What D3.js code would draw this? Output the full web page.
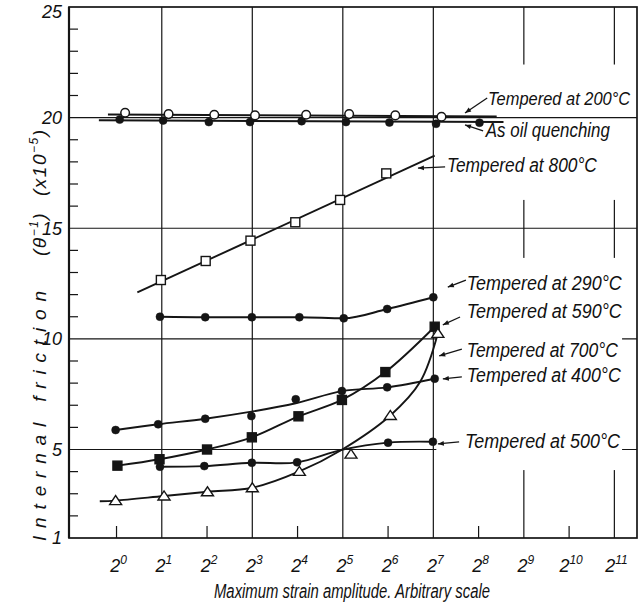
<!DOCTYPE html>
<html><head><meta charset="utf-8">
<script src="https://cdn.jsdelivr.net/npm/d3@7"></script>
<style>
body{margin:0;background:#fff;}
svg text{font-family:"Liberation Sans",Arial,sans-serif;font-style:italic;fill:#111;}
</style></head><body>
<svg id="c" width="644" height="612"></svg>
<script>
// ---------- data (x = exponent of 2, y = internal friction x1e-5) ----------
const xTickExponents = [0,1,2,3,4,5,6,7,8,9,10,11];
const yTickValues = [1,5,10,15,20,25];
const yMinorTicks = [2,3,4,6,7,8,9,11,12,13,14,16,17,18,19,21,22,23,24];
const gridExponents = [1,3,5,7,9,11];
const gridValues = [5,10,15];

// As oil quenching (filled circles)
const oilX = [0.07,1.03,2.04,2.95,4.09,5.07,6.03,7.06,8.02];
const oilY = [19.91,19.87,19.80,19.80,19.84,19.80,19.78,19.72,19.77];
const oilLineX = [-0.39,8.55];
const oilLineY = [19.88,19.80];
// Tempered at 200°C (open circles)
const t200X = [0.19,1.15,2.16,3.06,4.19,5.14,6.16,7.18];
const t200Y = [20.22,20.16,20.13,20.10,20.13,20.16,20.10,20.04];
const t200LineX = [-0.19,8.4];
const t200LineY = [20.14,20.05];
// Tempered at 800°C (open squares)
const t800X = [0.98,1.97,2.96,3.95,4.94,5.96];
const t800Y = [12.66,13.52,14.44,15.27,16.28,17.48];
const t800LineX = [0.46,7.03];
const t800LineY = [12.10,18.28];
// Tempered at 290°C (filled circles)
const t290X = [0.96,1.96,2.99,4.04,5.02,5.98,7.0];
const t290Y = [11.0,10.98,10.98,10.98,10.93,11.35,11.88];
// Tempered at 590°C (filled squares)
const t590X = [0.02,0.95,2.0,2.99,4.02,4.98,5.94,7.03];
const t590Y = [4.27,4.56,5.0,5.55,6.5,7.24,8.5,10.55];
// Tempered at 700°C (open triangles)
const t700X = [-0.02,1.05,2.01,3.0,4.04,5.18,6.05,7.1];
const t700Y = [2.69,2.9,3.09,3.27,4.01,4.79,6.54,10.25];
const t700LineX = [-0.37,-0.02,1.05,2.01,3.0,4.04,4.97,6.05,6.71,7.1];
const t700LineY = [2.66,2.69,2.9,3.09,3.27,4.01,4.98,6.54,8.06,10.25];
// Tempered at 400°C (filled circles)
const t400X = [-0.02,0.92,1.96,2.98,3.96,4.98,5.98,7.03];
const t400Y = [5.88,6.14,6.39,6.51,7.27,7.64,7.81,8.2];
const t400LineX = [-0.02,0.92,1.96,2.98,3.96,4.98,5.98,7.03];
const t400LineY = [5.88,6.14,6.39,6.71,7.09,7.64,7.81,8.2];
// Tempered at 500°C (filled circles)
const t500X = [0.96,1.94,2.99,3.99,6.0,6.99];
const t500Y = [4.22,4.25,4.4,4.42,5.31,5.35];
const t500LineX = [0.96,1.94,2.99,3.99,4.97,6.0,6.99];
const t500LineY = [4.22,4.25,4.4,4.42,4.98,5.31,5.35];

// labels
const labelTexts = ["Tempered at 200°C","As oil quenching","Tempered at 800°C","Tempered at 290°C",
  "Tempered at 590°C","Tempered at 700°C","Tempered at 400°C","Tempered at 500°C"];
const labelTipX  = [7.70,7.70,6.66,7.32,7.21,7.13,7.21,7.10];
const labelTipY  = [20.21,19.67,17.72,12.34,10.63,9.23,8.19,5.25];
const labelTailX = [8.19,8.10,7.26,7.72,7.59,7.63,7.63,7.57];
const labelTailY = [20.89,19.40,17.77,12.66,10.99,9.54,8.28,5.34];
const labelTextX = [8.21,8.16,7.30,7.74,7.74,7.74,7.74,7.70];
const labelTextY = [20.57,19.12,17.54,12.21,10.94,9.18,8.05,5.07];

// ---------- drawing ----------
const zip = (a,b)=>a.map((v,i)=>[v,b[i]]);
const svg = d3.select("#c");
const x = d3.scaleLinear().domain([-1.05,11.5]).range([69,637]);
const y = d3.scaleLinear().domain([1,25]).range([538,7]);
const ink = "#151515";

const defs = svg.append("defs");
defs.append("marker").attr("id","arr").attr("viewBox","0 0 10 10")
  .attr("refX",10).attr("refY",5).attr("markerWidth",7).attr("markerHeight",6)
  .attr("markerUnits","userSpaceOnUse").attr("orient","auto-start-reverse")
  .append("path").attr("d","M0,1 L10,5 L0,9 z").attr("fill",ink);

// grid
const g = svg.append("g").attr("stroke",ink).attr("stroke-width",1.2);
g.selectAll(".vg").data(gridExponents).join("line")
  .attr("x1",d=>x(d)).attr("x2",d=>x(d)).attr("y1",y(25)).attr("y2",y(1));
g.selectAll(".hg").data(gridValues).join("line")
  .attr("x1",x.range()[0]).attr("x2",x.range()[1]).attr("y1",d=>y(d)).attr("y2",d=>y(d));

// white gaps behind the label column (as drawn in the original)
const gaps = [[7.26,11.45,22.4,16.28],[7.0,11.17,13.66,4.07]];
svg.append("g").selectAll("rect").data(gaps).join("rect")
  .attr("x",d=>x(d[0])+3).attr("width",d=>x(d[1])-x(d[0])-3)
  .attr("y",d=>y(d[2])).attr("height",d=>y(d[3])-y(d[2])).attr("fill","#fff");

svg.append("line").attr("x1",x.range()[0]).attr("x2",x.range()[1])
  .attr("y1",y(20)).attr("y2",y(20)).attr("stroke",ink).attr("stroke-width",1.2);

// frame
svg.append("rect").attr("x",x.range()[0]).attr("y",y(25))
  .attr("width",x.range()[1]-x.range()[0]).attr("height",y(1)-y(25))
  .attr("fill","none").attr("stroke",ink).attr("stroke-width",1.7);
svg.append("line").attr("x1",x.range()[0]).attr("x2",x.range()[0]).attr("y1",y(25)).attr("y2",y(1))
  .attr("stroke",ink).attr("stroke-width",2.2);

// ticks
svg.append("g").selectAll("line").data(yMinorTicks).join("line")
  .attr("x1",x.range()[0]).attr("x2",x.range()[0]+9).attr("y1",d=>y(d)).attr("y2",d=>y(d))
  .attr("stroke",ink).attr("stroke-width",1.2);
svg.append("g").selectAll("line").data(xTickExponents.filter(e=>e%2===0)).join("line")
  .attr("x1",d=>x(d)).attr("x2",d=>x(d)).attr("y1",y(1)).attr("y2",y(1)-12)
  .attr("stroke",ink).attr("stroke-width",1.2);

// tick labels
svg.append("g").selectAll("text").data(yTickValues).join("text")
  .attr("x",62).attr("y",d=>Math.max(y(d),12)).attr("dy","0.36em").attr("text-anchor","end")
  .attr("font-size",18).text(d=>d);
const xt = svg.append("g").selectAll("text").data(xTickExponents).join("text")
  .attr("x",d=>x(d)+2).attr("y",572).attr("text-anchor","middle").attr("font-size",18);
xt.append("tspan").text("2");
xt.append("tspan").attr("dy",-8).attr("font-size",12).text(d=>d);

// axis titles
svg.append("text").attr("x",352).attr("y",598).attr("text-anchor","middle")
  .attr("font-size",19.5).attr("textLength",276).attr("lengthAdjust","spacingAndGlyphs")
  .text("Maximum strain amplitude. Arbitrary scale");
const yt = svg.append("g").attr("transform","translate(46,0) rotate(-90)");
yt.append("text").attr("x",-541).attr("y",0).attr("font-size",19)
  .attr("textLength",250).attr("lengthAdjust","spacing").text("Internal friction");
const p2 = yt.append("text").attr("x",-256).attr("y",0).attr("font-size",19).attr("letter-spacing",1.5);
p2.append("tspan").text("(θ");
p2.append("tspan").attr("dy",-8).attr("font-size",12).text("−1");
p2.append("tspan").attr("dy",8).text(")");
const p3 = yt.append("text").attr("x",-196).attr("y",0).attr("font-size",19).attr("letter-spacing",1.5);
p3.append("tspan").text("(x10");
p3.append("tspan").attr("dy",-8).attr("font-size",12).text("−5");
p3.append("tspan").attr("dy",8).text(")");

// curves
const lineMono = d3.line().x(d=>x(d[0])).y(d=>y(d[1])).curve(d3.curveMonotoneX);
const lineSmooth = d3.line().x(d=>x(d[0])).y(d=>y(d[1])).curve(d3.curveCatmullRom.alpha(0.5));
const curves = [
  [zip(oilLineX,oilLineY),lineMono],[zip(t200LineX,t200LineY),lineMono],[zip(t800LineX,t800LineY),lineMono],
  [zip(t290X,t290Y),lineMono],[zip(t590X,t590Y),lineSmooth],[zip(t700LineX,t700LineY),lineSmooth],
  [zip(t400LineX,t400LineY),lineSmooth],[zip(t500LineX,t500LineY),lineSmooth]];
svg.append("g").selectAll("path").data(curves).join("path")
  .attr("d",d=>d[1](d[0])).attr("fill","none").attr("stroke",ink).attr("stroke-width",1.9);

// markers
function dots(xs,ys,filled){
  svg.append("g").selectAll("circle").data(zip(xs,ys)).join("circle")
    .attr("cx",d=>x(d[0])).attr("cy",d=>y(d[1])).attr("r",filled?4:4.3)
    .attr("fill",filled?ink:"#fff").attr("stroke",ink).attr("stroke-width",filled?0.5:1.5);
}
function squares(xs,ys,filled){
  svg.append("g").selectAll("rect").data(zip(xs,ys)).join("rect")
    .attr("x",d=>x(d[0])-4.5).attr("y",d=>y(d[1])-4.5).attr("width",9).attr("height",9)
    .attr("fill",filled?ink:"#fff").attr("stroke",ink).attr("stroke-width",1.4);
}
function triangles(xs,ys){
  svg.append("g").selectAll("path").data(zip(xs,ys)).join("path")
    .attr("transform",d=>`translate(${x(d[0])},${y(d[1])})`)
    .attr("d","M-6,4 L0,-5 L6,4 Z").attr("fill","#fff").attr("stroke",ink).attr("stroke-width",1.4);
}
dots(oilX,oilY,true);
dots(t200X,t200Y,false);
squares(t800X,t800Y,false);
dots(t290X,t290Y,true);
squares(t590X,t590Y,true);
triangles(t700X,t700Y);
dots(t400X,t400Y,true);
dots(t500X,t500Y,true);

// annotations
const ann = svg.append("g");
labelTexts.forEach((t,i)=>{
  ann.append("line").attr("x1",x(labelTipX[i])).attr("y1",y(labelTipY[i]))
    .attr("x2",x(labelTailX[i])).attr("y2",y(labelTailY[i]))
    .attr("stroke",ink).attr("stroke-width",1.3).attr("marker-start","url(#arr)");
  ann.append("text").attr("x",x(labelTextX[i])).attr("y",y(labelTextY[i]))
    .attr("font-size",i===0?17.5:19.5)
    .attr("textLength",[142,124,150,155,155,151,154,155][i]).attr("lengthAdjust","spacingAndGlyphs")
    .text(t);
});
</script>
</body></html>
